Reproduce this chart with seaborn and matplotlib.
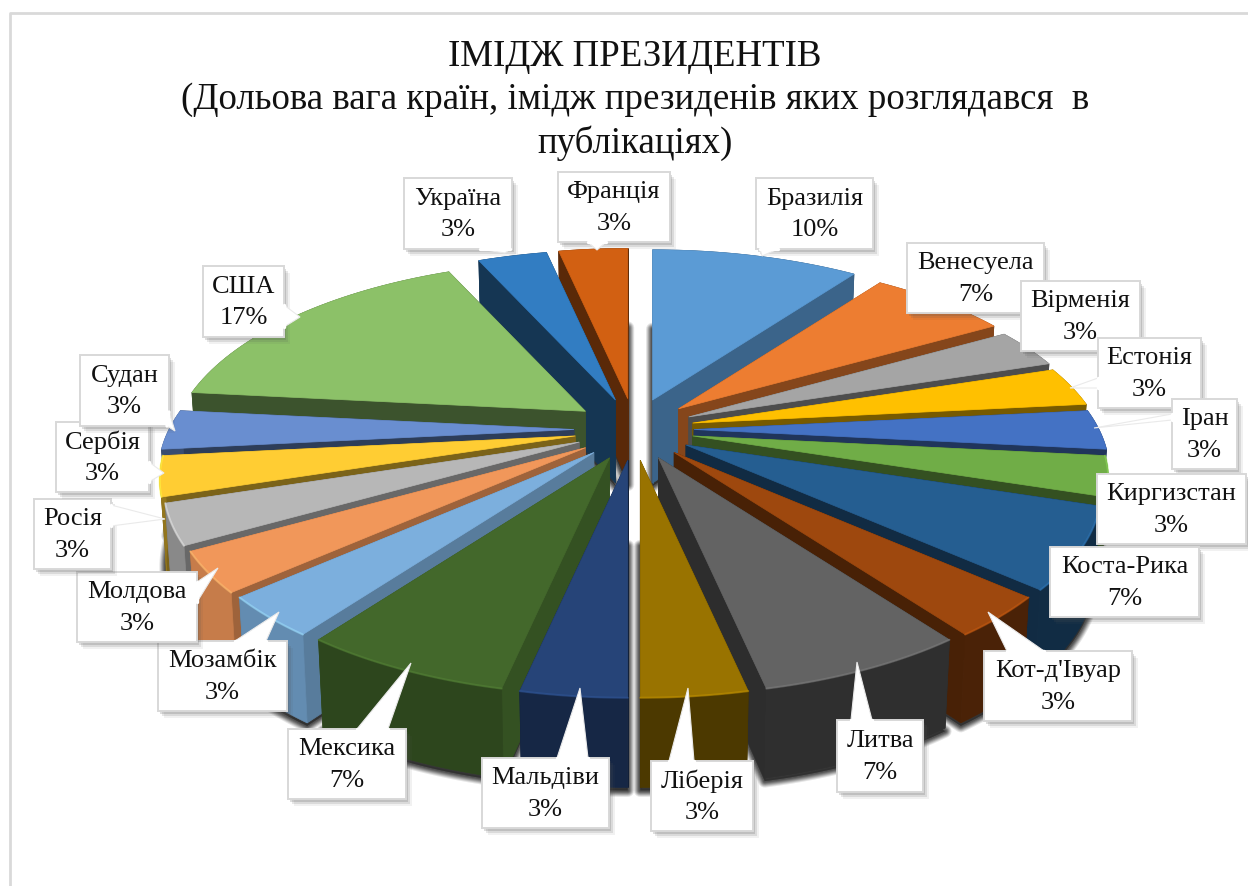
import numpy as np
import seaborn as sns
import matplotlib.pyplot as plt
from matplotlib.colors import to_rgb

# publication counts per country, clockwise from 12 o'clock
countries = ["Бразилія", "Венесуела", "Вірменія", "Естонія", "Іран", "Киргизстан", "Коста-Рика",
             "Кот-д'Івуар", "Литва", "Ліберія", "Мальдіви", "Мексика", "Мозамбік", "Молдова",
             "Росія", "Сербія", "Судан", "США", "Україна", "Франція"]
counts = [3, 2, 1, 1, 1, 1, 2, 1, 2, 1, 1, 2, 1, 1, 1, 1, 1, 5, 1, 1]

slice_colors = ["#5B9BD5", "#ED7D31", "#A5A5A5", "#FFC000", "#4472C4", "#70AD47", "#255E91",
                "#9E480E", "#636363", "#997300", "#264478", "#43682B", "#7CAFDD", "#F1975A",
                "#B7B7B7", "#FFCD33", "#698ED0", "#8CC168", "#327DC2", "#D26012"]

title_lines = ["ІМІДЖ ПРЕЗИДЕНТІВ",
               "(Дольова вага країн, імідж президенів яких розглядався  в",
               "публікаціях)"]

# label layout in picture pixels: box (left, top, right, bottom), pointer tip, pointer base
label_boxes = [(756, 178, 873, 249), (907, 243, 1044, 313), (1021, 281, 1140, 351),
               (1098, 338, 1201, 408), (1172, 399, 1237, 469), (1097, 474, 1246, 544),
               (1050, 547, 1199, 617), (984, 651, 1132, 721), (837, 720, 923, 792),
               (651, 761, 753, 831), (482, 758, 609, 828), (288, 729, 406, 799),
               (158, 641, 287, 711), (77, 572, 197, 642), (34, 499, 111, 569),
               (56, 422, 149, 492), (80, 355, 169, 426), (203, 266, 284, 337),
               (404, 178, 512, 249), (558, 172, 670, 242)]
pointer_tips = [(762, 256), None, None, (1070, 388), (1094, 428), None,
                None, (988, 612), (857, 662), (688, 688), (580, 688), (411, 663),
                (279, 612), (218, 568), (165, 519), (164, 473), (175, 431), (300, 317),
                (505, 253), (597, 250)]
pointer_bases = [((760, 249), (778, 249)), None, None,
                 ((1098, 378), (1098, 388)), ((1172, 414), (1172, 420)), None,
                 None, ((1007, 651), (1044, 651)), ((851, 720), (872, 720)),
                 ((669, 761), (694, 761)), ((557, 758), (588, 758)), ((357, 729), (388, 729)),
                 ((235, 641), (266, 641)), ((197, 582), (197, 602)), ((111, 505), (111, 526)),
                 ((149, 462), (149, 482)), ((167, 426), (169, 412)), ((284, 305), (284, 327)),
                 ((480, 249), (510, 249)), ((588, 242), (606, 242))]

# pie geometry
CX, CY = 634, 429.5
EXPLODE_X, EXPLODE_Y = 60, 31
RX, RY, PERSP = 405, 184, 0.225
DEPTH = 83

sns.set_theme(style="white")
plt.rcParams["font.family"] = ["Liberation Serif", "DejaVu Serif"]
palette = sns.color_palette(slice_colors)


def shade(color, f):
    return tuple(np.clip(np.array(to_rgb(color)) * f, 0, 1))


def rim(angles, ax0, ay0):
    u, v = np.sin(angles), np.cos(angles)
    den = 1 + PERSP * v
    return ax0 + RX * u / den, ay0 - RY * v / den, v


fig, ax = plt.subplots(figsize=(12.48, 8.86), dpi=100)
fig.subplots_adjust(0, 0, 1, 1)
ax.set_xlim(0, 1248)
ax.set_ylim(886, 0)
ax.axis("off")

ax.plot([10, 10, 1248], [886, 13, 13], color="#D9D9D9", lw=2, zorder=1)

total = sum(counts)
edges = np.cumsum([0] + counts) / total * 2 * np.pi
slices = []
for i, name in enumerate(countries):
    a0, a1 = edges[i], edges[i + 1]
    mid = (a0 + a1) / 2
    ax0 = CX + EXPLODE_X * np.sin(mid)
    ay0 = CY - EXPLODE_Y * np.cos(mid)
    angs = np.linspace(a0, a1, 40)
    x, y, v = rim(angs, ax0, ay0)
    low = y + DEPTH * (1 - 0.08 * v)
    low_x = ax0 + (x - ax0) * 0.985
    slices.append(dict(i=i, mid=mid, ax0=ax0, ay0=ay0, x=x, y=y, low=low, low_x=low_x, v=v))

# soft shadow under the slices
for s in slices:
    bx = np.r_[s["ax0"], s["low_x"]]
    by = np.r_[s["ay0"] + DEPTH, s["low"]] + 3
    for lw, al in [(13, 0.12), (11, 0.16), (9, 0.2), (7, 0.25), (5, 0.3), (3, 0.35)]:
        ax.fill(bx, by, facecolor="#2A2A2A", edgecolor="#2A2A2A", lw=lw * 0.72, alpha=al, zorder=2,
                joinstyle="round")

wall_deg = [0, 40, 60, 190, 200, 235, 265, 360]
wall_f = [0.67, 0.62, 0.47, 0.45, 0.8, 0.65, 0.43, 0.43]
outer_deg = [0, 170, 190, 205, 222, 240, 260, 360]
outer_f = [0.47, 0.47, 0.6, 0.68, 0.8, 0.83, 0.55, 0.47]

order = sorted(slices, key=lambda s: -np.cos(s["mid"]))
for z, s in enumerate(order):
    col = palette[s["i"]]
    deg = np.degrees(s["mid"])
    zo = 3 + z * 0.01
    side = shade(col, np.interp(deg, wall_deg, wall_f))
    front = shade(col, np.interp(deg, outer_deg, outer_f))
    ax0, ay0 = s["ax0"], s["ay0"]
    # far slices: radial walls cover the outer wall, near slices the other way round
    outer_z = zo if s["v"].mean() > 0 else zo + 0.0007
    ax.fill(np.r_[s["x"], s["low_x"][::-1]], np.r_[s["y"], s["low"][::-1]],
            color=front, lw=0.5, zorder=outer_z)
    for k in (0, -1):
        ax.fill([ax0, s["x"][k], s["low_x"][k], ax0], [ay0, s["y"][k], s["low"][k], ay0 + DEPTH],
                color=side, lw=0.5, zorder=zo + 0.0005)
    # top
    ax.fill(np.r_[ax0, s["x"]], np.r_[ay0, s["y"]], color=col, lw=0.5, zorder=zo + 0.001)
    if s["v"].mean() < -0.1:
        ax.plot(s["x"], s["y"], color=shade(col, 1.3), lw=1.5, alpha=0.5,
                zorder=zo + 0.002, solid_capstyle="round")

# callouts
for i, name in enumerate(countries):
    left, top, right, bottom = label_boxes[i]
    tip, base = pointer_tips[i], pointer_bases[i]
    zo = 10 + i * 0.01
    bx = [left, right, right, left]
    by = [top, top, bottom, bottom]
    for off, al in [(7, 0.08), (5, 0.14), (3, 0.2)]:
        ax.fill(np.array(bx) + off - 1, np.array(by) + off, color="#555555", lw=0, alpha=al, zorder=zo)
    ax.fill(bx, by, facecolor="white", edgecolor="#D8D8D8", lw=1.4, zorder=zo + 0.001)
    if tip is not None:
        ax.fill([base[0][0], tip[0], base[1][0]], [base[0][1], tip[1], base[1][1]],
                facecolor="white", edgecolor="#EAEAEA", lw=0.8, zorder=zo + 0.002)
        ax.plot([base[0][0], base[1][0]], [base[0][1], base[1][1]], color="white", lw=2.4,
                zorder=zo + 0.003)
    pct = round(counts[i] / total * 100)
    ax.text((left + right) / 2, (top + bottom) / 2 + 1, f"{name}\n{pct}%", ha="center", va="center",
            fontsize=19, color="#111111", linespacing=1.55, zorder=zo + 0.004)

for line, yy in zip(title_lines, [57, 100, 143]):
    ax.text(635, yy, line, ha="center", va="center", fontsize=26.6, color="#111111")

fig.savefig("out.png", dpi=100)
